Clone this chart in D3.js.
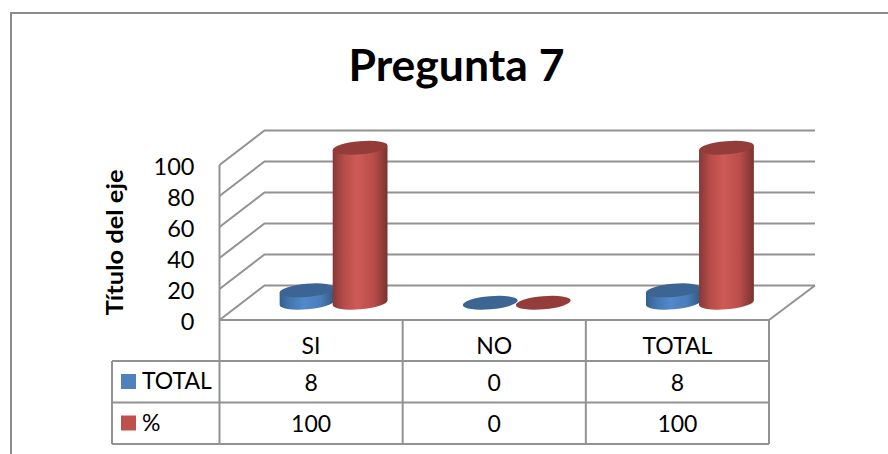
<!DOCTYPE html>
<html>
<head>
<meta charset="utf-8">
<script src="https://cdnjs.cloudflare.com/ajax/libs/d3/7.8.5/d3.min.js"></script>
<style>
html,body{margin:0;padding:0;background:#fff;}
svg{display:block;}
text{font-family:Lato,"Open Sans",sans-serif;fill:#000;}
</style>
</head>
<body>
<svg id="chart" width="888" height="454"></svg>
<script>
const categories = ["SI", "NO", "TOTAL"];
const seriesNames = ["TOTAL", "%"];
const totalValues = [8, 0, 8];
const percentValues = [100, 0, 100];
const valueTicks = [0, 20, 40, 60, 80, 100];
const chartTitle = "Pregunta 7";
const axisTitle = "Título del eje";

const palette = {
  TOTAL: {swatch: "#4f81bd", top: "#3c6594", stops: ["#35608f", "#4577b0", "#5189cb", "#4a7dba", "#33587f"]},
  "%": {swatch: "#c0504d", top: "#943c3a", stops: ["#873836", "#b54c49", "#cf5a56", "#b84d4a", "#7a3230"]}
};
const gridColor = "#929292";

const svg = d3.select("#chart");

// Floor and walls of the 3D box
const x0 = 219.5, x1 = 769, floorY = 320, topY = 165;
const depthX = 45, depthY = -34.5;

const x = d3.scaleBand().domain(categories).range([x0, x1]);
const series = d3.scaleBand().domain(seriesNames).range([0, x.bandwidth()]).paddingInner(0).paddingOuter(0.726);
const y = d3.scaleLinear().domain([0, 100]).range([floorY, topY]);

// Outer chart frame, open at the right and bottom
svg.append("path")
  .attr("d", d3.line()([[11, 454], [11, 13], [888, 13]]))
  .attr("fill", "none").attr("stroke", "#8c8c8c").attr("stroke-width", 2);

svg.append("text").attr("x", 456.5).attr("y", 81)
  .attr("text-anchor", "middle").attr("font-size", 44.5).attr("font-weight", 700)
  .text(chartTitle);

// Gridlines run up the side wall and along the back wall
const grid = svg.append("g").attr("fill", "none").attr("stroke", gridColor).attr("stroke-width", 2);
valueTicks.forEach(t => {
  grid.append("path").attr("d", d3.line()([
    [x0, y(t)],
    [x0 + depthX, y(t) + depthY],
    [x1 + depthX + 1, y(t) + depthY]
  ]));
});
grid.append("path").attr("d", d3.line()([[x0, y(0)], [x0, y(100)]]));
grid.append("path").attr("d", d3.line()([[x1, y(0)], [x1 + depthX + 1, y(0) + depthY]]));

// Value axis labels and title
svg.append("g").selectAll("text").data(valueTicks).join("text")
  .attr("x", 194.5).attr("y", d => y(d) + 9.5)
  .attr("text-anchor", "end").attr("font-size", 23.5)
  .text(d => d);

svg.append("text")
  .attr("transform", "translate(123,242.5) rotate(-90)")
  .attr("text-anchor", "middle").attr("font-size", 22).attr("font-weight", 700)
  .attr("textLength", 146).attr("lengthAdjust", "spacingAndGlyphs")
  .text(axisTitle);

// Horizontal shading used for the cylinder walls
const defs = svg.append("defs");
seriesNames.forEach((name, i) => {
  const g = defs.append("linearGradient").attr("id", "wall" + i);
  palette[name].stops.forEach((c, j) => {
    g.append("stop").attr("offset", [0, 0.2, 0.45, 0.75, 1][j]).attr("stop-color", c);
  });
});

// Cylinders stand mid-way along the depth of the floor
const rx = 27.5, ry = 6.6, tilt = -5;
const baseY = floorY + depthY / 2;
const th = tilt * Math.PI / 180;
const tanT = Math.atan2(-ry * Math.sin(th), rx * Math.cos(th));
const tx = rx * Math.cos(tanT) * Math.cos(th) - ry * Math.sin(tanT) * Math.sin(th);
const ty = rx * Math.cos(tanT) * Math.sin(th) + ry * Math.sin(tanT) * Math.cos(th);

function drawCylinder(g, cx, value, i) {
  const name = seriesNames[i];
  const topCy = baseY - (y(0) - y(value));
  if (value > 0) {
    const d = `M${cx - tx},${topCy - ty}L${cx + tx},${topCy + ty}L${cx + tx},${baseY + ty}`
      + `A${rx},${ry} ${tilt} 0 1 ${cx - tx},${baseY - ty}Z`;
    g.append("path").attr("d", d).attr("fill", `url(#wall${i})`);
  }
  g.append("ellipse")
    .attr("cx", cx).attr("cy", topCy).attr("rx", rx).attr("ry", ry)
    .attr("transform", `rotate(${tilt} ${cx} ${topCy})`)
    .attr("fill", palette[name].top);
}

const bars = svg.append("g");
categories.forEach((c, k) => {
  const base = x(c) + depthX / 2;
  drawCylinder(bars, base + series("TOTAL") + series.bandwidth() / 2, totalValues[k], 0);
  drawCylinder(bars, base + series("%") + series.bandwidth() / 2, percentValues[k], 1);
});

// Data table beneath the plot
const rowTop = 361, rowH = 41.5, legendLeft = 112;
const table = svg.append("g").attr("fill", "none").attr("stroke", gridColor).attr("stroke-width", 2);
const ticks = x.domain().map(c => x(c)).concat([x1]);
table.append("path").attr("d", d3.line()([[x0, floorY], [x1, floorY]]));
ticks.forEach(px => {
  table.append("path").attr("d", d3.line()([[px, floorY], [px, rowTop + 2 * rowH]]));
});
[0, 1, 2].forEach(r => {
  table.append("path").attr("d", d3.line()([[legendLeft, rowTop + r * rowH], [x1, rowTop + r * rowH]]));
});
table.append("path").attr("d", d3.line()([[legendLeft, rowTop], [legendLeft, rowTop + 2 * rowH]]));

categories.forEach((c, k) => {
  const cx = x(c) + x.bandwidth() / 2;
  svg.append("text").attr("x", cx).attr("y", 354).attr("text-anchor", "middle").attr("font-size", 23).text(c);
  [totalValues[k], percentValues[k]].forEach((v, r) => {
    svg.append("text").attr("x", cx).attr("y", rowTop + r * rowH + 29.5)
      .attr("text-anchor", "middle").attr("font-size", 23).text(v);
  });
});

seriesNames.forEach((name, r) => {
  svg.append("rect").attr("x", 121).attr("y", rowTop + r * rowH + 13)
    .attr("width", 15).attr("height", 15).attr("fill", palette[name].swatch);
  svg.append("text").attr("x", 142).attr("y", rowTop + r * rowH + 28)
    .attr("font-size", 23).text(name);
});
</script>
</body>
</html>
